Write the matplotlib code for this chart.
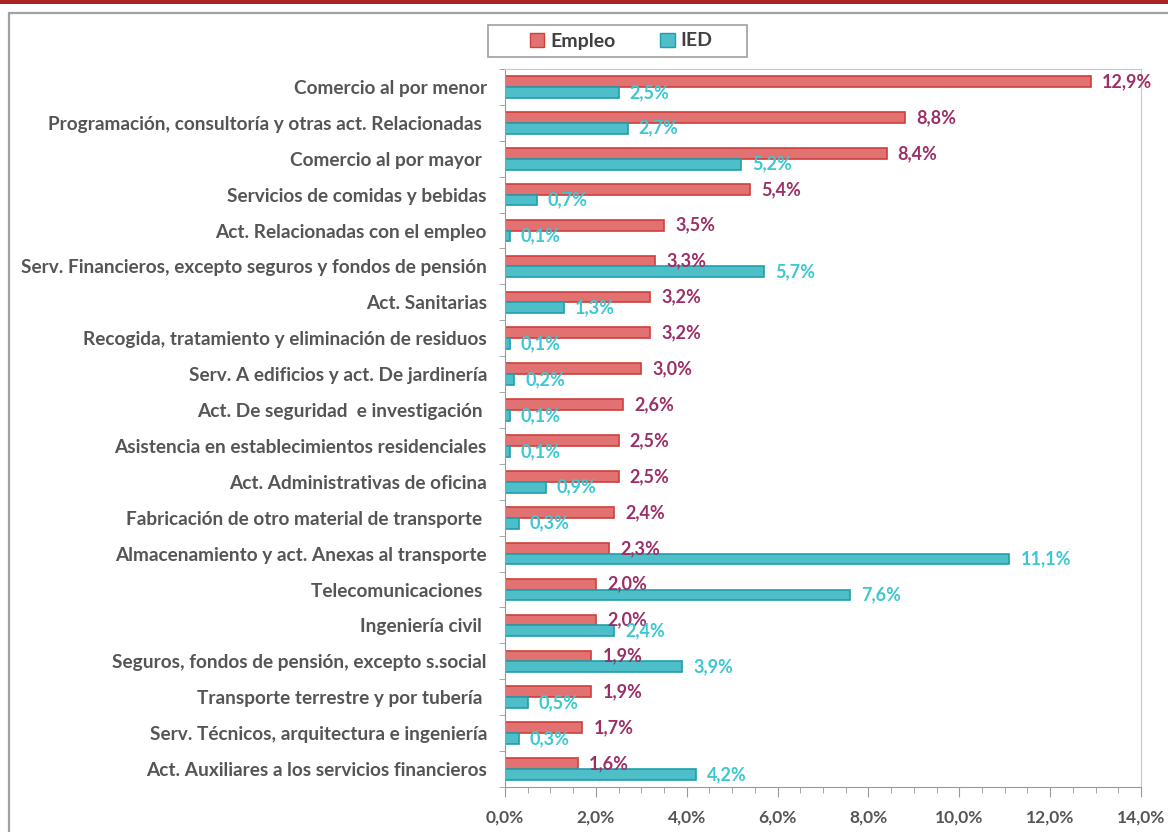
import matplotlib
matplotlib.use("Agg")
import matplotlib.pyplot as plt
from matplotlib.patches import Rectangle, Patch
from matplotlib.ticker import MultipleLocator, FixedLocator
import numpy as np

plt.rcParams['font.family'] = ['Lato', 'DejaVu Sans']

categories = [
    "Comercio al por menor",
    "Programación, consultoría y otras act. Relacionadas ",
    "Comercio al por mayor ",
    "Servicios de comidas y bebidas",
    "Act. Relacionadas con el empleo",
    "Serv. Financieros, excepto seguros y fondos de pensión",
    "Act. Sanitarias",
    "Recogida, tratamiento y eliminación de residuos",
    "Serv. A edificios y act. De jardinería",
    "Act. De seguridad  e investigación ",
    "Asistencia en establecimientos residenciales",
    "Act. Administrativas de oficina",
    "Fabricación de otro material de transporte ",
    "Almacenamiento y act. Anexas al transporte",
    "Telecomunicaciones ",
    "Ingeniería civil ",
    "Seguros, fondos de pensión, excepto s.social",
    "Transporte terrestre y por tubería ",
    "Serv. Técnicos, arquitectura e ingeniería",
    "Act. Auxiliares a los servicios financieros",
]
empleo = [12.9, 8.8, 8.4, 5.4, 3.5, 3.3, 3.2, 3.2, 3.0, 2.6, 2.5, 2.5, 2.4, 2.3, 2.0, 2.0, 1.9, 1.9, 1.7, 1.6]
ied = [2.5, 2.7, 5.2, 0.7, 0.1, 5.7, 1.3, 0.1, 0.2, 0.1, 0.1, 0.9, 0.3, 11.1, 7.6, 2.4, 3.9, 0.5, 0.3, 4.2]
series_names = ["Empleo", "IED"]

RED_FACE, RED_EDGE = '#E27272', '#CF3F3B'
CY_FACE, CY_EDGE = '#4EBFC8', '#1F9EAD'
RED_TXT, CY_TXT = '#9C2F67', '#3CC8D2'
TXT = '#555555'

fig = plt.figure(figsize=(11.68, 8.32), dpi=100)

# top dark red strip and outer frame
fig.patches.append(Rectangle((0, 1 - 4/832), 1, 4/832, transform=fig.transFigure,
                             facecolor='#A82320', edgecolor='none', zorder=0))
fig.patches.append(Rectangle((9/1168, -0.05), 1.1, 1.05 - 13/832, transform=fig.transFigure,
                             facecolor='none', edgecolor='#A0A0A0', linewidth=1.6, zorder=0))

ax = fig.add_axes([505/1168, 1 - 787/832, (1141 - 505)/1168, (787 - 69)/832])

y = np.arange(len(categories))
h = 0.3
ax.barh(y - h/2, empleo, height=h, color=RED_FACE, edgecolor=RED_EDGE, linewidth=1.2, label=series_names[0])
ax.barh(y + h/2, ied, height=h, color=CY_FACE, edgecolor=CY_EDGE, linewidth=1.2, label=series_names[1])

def fmt(v):
    return f"{v:.1f}".replace('.', ',') + '%'

for yi, v in zip(y, empleo):
    ax.annotate(fmt(v), (v, yi - h/2), xytext=(8, 0), textcoords='offset points',
                va='center', ha='left', color=RED_TXT, fontsize=13, fontweight='bold')
for yi, v in zip(y, ied):
    ax.annotate(fmt(v), (v, yi + h/2), xytext=(8, 0), textcoords='offset points',
                va='center', ha='left', color=CY_TXT, fontsize=13, fontweight='bold')

ax.set_xlim(0, 14)
ax.set_ylim(len(categories) - 0.5, -0.5)

ax.set_yticks(y)
ax.set_yticklabels(categories, fontsize=13.7, color=TXT, fontweight='bold')
ax.yaxis.set_minor_locator(FixedLocator(np.arange(-0.5, len(categories), 1.0)))
ax.tick_params(axis='y', which='major', length=0, pad=13)
ax.tick_params(axis='y', which='minor', length=4, color='#999999', direction='out')

ax.xaxis.set_major_locator(MultipleLocator(2))
ax.xaxis.set_minor_locator(MultipleLocator(0.5))
ax.set_xticklabels([fmt(v) for v in ax.get_xticks()], fontsize=12.5, color=TXT, fontweight='bold')
ax.tick_params(axis='x', which='major', length=7, color='#999999', pad=9)
ax.tick_params(axis='x', which='minor', length=4, color='#999999')

for s in ['left', 'bottom']:
    ax.spines[s].set_color('#999999')
for s in ['top', 'right']:
    ax.spines[s].set_color('#C8C8C8')

# legend box
fig.patches.append(Rectangle((488/1168, 1 - 57/832), (747 - 488)/1168, 32/832,
                             transform=fig.transFigure, facecolor='white',
                             edgecolor='#A0A0A0', linewidth=1.2, zorder=1))
handles = [Patch(facecolor=RED_FACE, edgecolor=RED_EDGE), Patch(facecolor=CY_FACE, edgecolor=CY_EDGE)]
leg = fig.legend(handles, series_names, loc='center', bbox_to_anchor=(621/1168, 1 - 41/832),
                 ncol=2, frameon=False,
                 prop={'size': 14, 'weight': 'bold'}, handlelength=0.75, handleheight=0.75,
                 handletextpad=0.3, columnspacing=2.3, borderpad=0.3)
for t in leg.get_texts():
    t.set_color('#404040')

fig.savefig('out.png', dpi=100)
